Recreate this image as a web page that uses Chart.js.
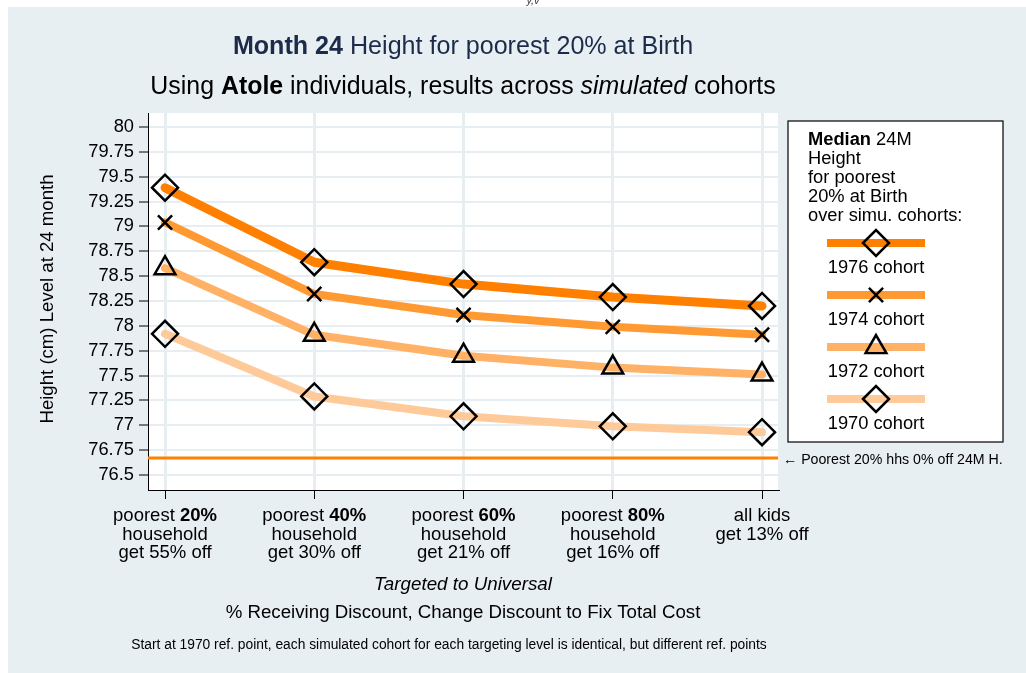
<!DOCTYPE html>
<html>
<head>
<meta charset="utf-8">
<script src="https://cdn.jsdelivr.net/npm/chart.js@4.4.1/dist/chart.umd.min.js"></script>
<style>
  html, body { margin: 0; padding: 0; background: #fff; }
  #wrap { width: 1026px; height: 673px; }
</style>
</head>
<body>
<div id="wrap"><canvas id="chart" width="1026" height="673"></canvas></div>
<script>
// category labels: each line is a list of [text, style] pieces
const categoryLabels = [
  [[['poorest ', ''], ['20%', 'bold']], [['household', '']], [['get 55% off', '']]],
  [[['poorest ', ''], ['40%', 'bold']], [['household', '']], [['get 30% off', '']]],
  [[['poorest ', ''], ['60%', 'bold']], [['household', '']], [['get 21% off', '']]],
  [[['poorest ', ''], ['80%', 'bold']], [['household', '']], [['get 16% off', '']]],
  [[['all kids', '']], [['get 13% off', '']]]
];
const cohortNames = ['1976 cohort', '1974 cohort', '1972 cohort', '1970 cohort'];
const height1976 = [79.39, 78.64, 78.42, 78.29, 78.20];
const height1974 = [79.04, 78.32, 78.11, 77.99, 77.91];
const height1972 = [78.58, 77.91, 77.70, 77.58, 77.51];
const height1970 = [77.92, 77.29, 77.09, 76.99, 76.93];
const baselineHeight = 76.67;
const yTicks = [76.5, 76.75, 77, 77.25, 77.5, 77.75, 78, 78.25, 78.5, 78.75, 79, 79.25, 79.5, 79.75, 80];

const FONT = '"Liberation Sans", Arial, "DejaVu Sans", sans-serif';
const xMin = -0.114, xMax = 4.107;
const lineColors = ['#ff8000', '#ff9a33', '#ffb266', '#ffca99'];
const markers = [
  { style: 'rectRot', radius: 13 },
  { style: 'crossRot', radius: 10 },
  { style: 'triangle', radius: 12 },
  { style: 'rectRot', radius: 13 }
];

function toPoints(values) {
  return values.map((v, i) => ({ x: i, y: v }));
}

function fontOf(style, size) {
  return (style || '') + ' ' + size + 'px ' + FONT;
}

function drawRich(ctx, segs, x, y, size, color, align) {
  const widths = segs.map(s => { ctx.font = fontOf(s[1], size); return ctx.measureText(s[0]).width; });
  const total = widths.reduce((a, b) => a + b, 0);
  let cx = align === 'left' ? x : x - total / 2;
  ctx.textAlign = 'left';
  ctx.textBaseline = 'middle';
  ctx.fillStyle = color;
  segs.forEach((s, i) => {
    ctx.font = fontOf(s[1], size);
    ctx.fillText(s[0], cx, y);
    cx += widths[i];
  });
}

function drawMarker(ctx, style, r, x, y) {
  ctx.save();
  ctx.strokeStyle = '#000';
  ctx.lineWidth = 2.5;
  ctx.beginPath();
  if (style === 'rectRot') {
    ctx.moveTo(x - r, y); ctx.lineTo(x, y - r); ctx.lineTo(x + r, y); ctx.lineTo(x, y + r); ctx.closePath();
  } else if (style === 'crossRot') {
    const d = r * Math.SQRT1_2;
    ctx.moveTo(x - d, y - d); ctx.lineTo(x + d, y + d);
    ctx.moveTo(x + d, y - d); ctx.lineTo(x - d, y + d);
  } else {
    const s = Math.sin(Math.PI / 3) * r;
    ctx.moveTo(x, y - r); ctx.lineTo(x + s, y + r / 2); ctx.lineTo(x - s, y + r / 2); ctx.closePath();
  }
  ctx.stroke();
  ctx.restore();
}

const decor = {
  id: 'decor',
  beforeDraw(chart) {
    const ctx = chart.ctx, a = chart.chartArea;
    ctx.save();
    ctx.fillStyle = '#fff';
    ctx.fillRect(0, 0, chart.width, chart.height);
    ctx.fillStyle = '#e8eff2';
    ctx.fillRect(8, 7, chart.width - 8, chart.height - 7);
    ctx.fillStyle = '#fff';
    ctx.fillRect(a.left, a.top, a.right - a.left, a.bottom - a.top);
    ctx.restore();
  },
  afterDraw(chart) {
    const ctx = chart.ctx;
    const xs = chart.scales.x;
    ctx.save();
    // cut-off text at top edge
    ctx.font = 'italic 11px ' + FONT;
    ctx.fillStyle = '#444';
    ctx.textAlign = 'center';
    ctx.textBaseline = 'alphabetic';
    ctx.fillText('y,v', 533, 4);

    drawRich(ctx, [['Month 24', 'bold'], [' Height for poorest 20% at Birth', '']], 463, 47, 25.1, '#1c2b4a');
    drawRich(ctx, [['Using ', ''], ['Atole', 'bold'], [' individuals, results across ', ''], ['simulated', 'italic'], [' cohorts', '']], 463, 87, 24.9, '#000');

    // x category labels
    categoryLabels.forEach((lines, i) => {
      const px = xs.getPixelForValue(i);
      lines.forEach((segs, k) => drawRich(ctx, segs, px, 516 + k * 18.5, 18.5, '#000'));
    });

    drawRich(ctx, [['Targeted to Universal', 'italic']], 463, 585, 18.8, '#000');
    drawRich(ctx, [['% Receiving Discount, Change Discount to Fix Total Cost', '']], 463, 613, 18.7, '#000');
    drawRich(ctx, [['Start at 1970 ref. point, each simulated cohort for each targeting level is identical, but different ref. points', '']], 449, 645, 13.8, '#000');

    // y axis title
    ctx.save();
    ctx.translate(48, 299);
    ctx.rotate(-Math.PI / 2);
    drawRich(ctx, [['Height (cm) Level at 24 month', '']], 0, 0, 18.6, '#000');
    ctx.restore();

    // reference line note
    drawRich(ctx, [['\u2190 Poorest 20% hhs 0% off 24M H.', '']], 783, 460, 14.2, '#000', 'left');

    // legend box
    ctx.fillStyle = '#fff';
    ctx.fillRect(788, 121, 215, 321);
    ctx.strokeStyle = '#000';
    ctx.lineWidth = 1.2;
    ctx.strokeRect(788, 121, 215, 321);
    const head = [
      [['Median', 'bold'], [' 24M', '']],
      [['Height', '']],
      [['for poorest', '']],
      [['20% at Birth', '']],
      [['over simu. cohorts:', '']]
    ];
    head.forEach((segs, k) => drawRich(ctx, segs, 808, 140 + k * 19, 18.3, '#000', 'left'));
    cohortNames.forEach((name, i) => {
      const ly = 243 + i * 52;
      ctx.strokeStyle = lineColors[i];
      ctx.lineWidth = 8;
      ctx.lineCap = 'butt';
      ctx.beginPath();
      ctx.moveTo(827, ly);
      ctx.lineTo(925, ly);
      ctx.stroke();
      drawMarker(ctx, markers[i].style, markers[i].radius, 876, ly);
      drawRich(ctx, [[name, '']], 876, ly + 24.5, 18.3, '#000');
    });
    ctx.restore();
  }
};

const cohortSeries = [height1976, height1974, height1972, height1970];
const datasets = cohortSeries.map((vals, i) => ({
  label: cohortNames[i],
  data: toPoints(vals),
  borderColor: lineColors[i],
  borderWidth: i === 0 ? 9 : 8,
  borderCapStyle: 'round',
  borderJoinStyle: 'round',
  pointStyle: markers[i].style,
  pointRadius: markers[i].radius,
  pointBorderColor: '#000',
  pointBorderWidth: 2.5,
  pointBackgroundColor: 'rgba(0,0,0,0)',
  tension: 0
}));
datasets.push({
  label: 'baseline',
  data: [{ x: xMin, y: baselineHeight }, { x: xMax, y: baselineHeight }],
  borderColor: '#ff8000',
  borderWidth: 3,
  pointRadius: 0
});

new Chart(document.getElementById('chart'), {
  type: 'line',
  data: { datasets: datasets },
  options: {
    responsive: false,
    animation: false,
    devicePixelRatio: 1,
    layout: { padding: { left: 0, top: 113, right: 248, bottom: 0 } },
    plugins: { legend: { display: false }, tooltip: { enabled: false }, title: { display: false } },
    scales: {
      x: {
        type: 'linear',
        min: xMin,
        max: xMax,
        afterBuildTicks: s => { s.ticks = categoryLabels.map((c, i) => ({ value: i })); },
        afterFit: s => { s.height = 183; },
        ticks: { display: false },
        grid: { color: '#e6eef1', lineWidth: 3, tickColor: '#000', tickLength: 9, tickWidth: 1 },
        border: { display: true, color: '#000', width: 1 }
      },
      y: {
        min: 76.349,
        max: 80.141,
        afterBuildTicks: s => { s.ticks = yTicks.map(v => ({ value: v })); },
        afterFit: s => { s.width = 148; },
        ticks: {
          color: '#000',
          padding: 5,
          font: { family: FONT, size: 18.3 },
          callback: v => String(v)
        },
        grid: { color: '#e6eef1', lineWidth: 2, tickColor: '#000', tickLength: 9, tickWidth: 1 },
        border: { display: true, color: '#000', width: 1 }
      }
    }
  },
  plugins: [decor]
});
</script>
</body>
</html>
